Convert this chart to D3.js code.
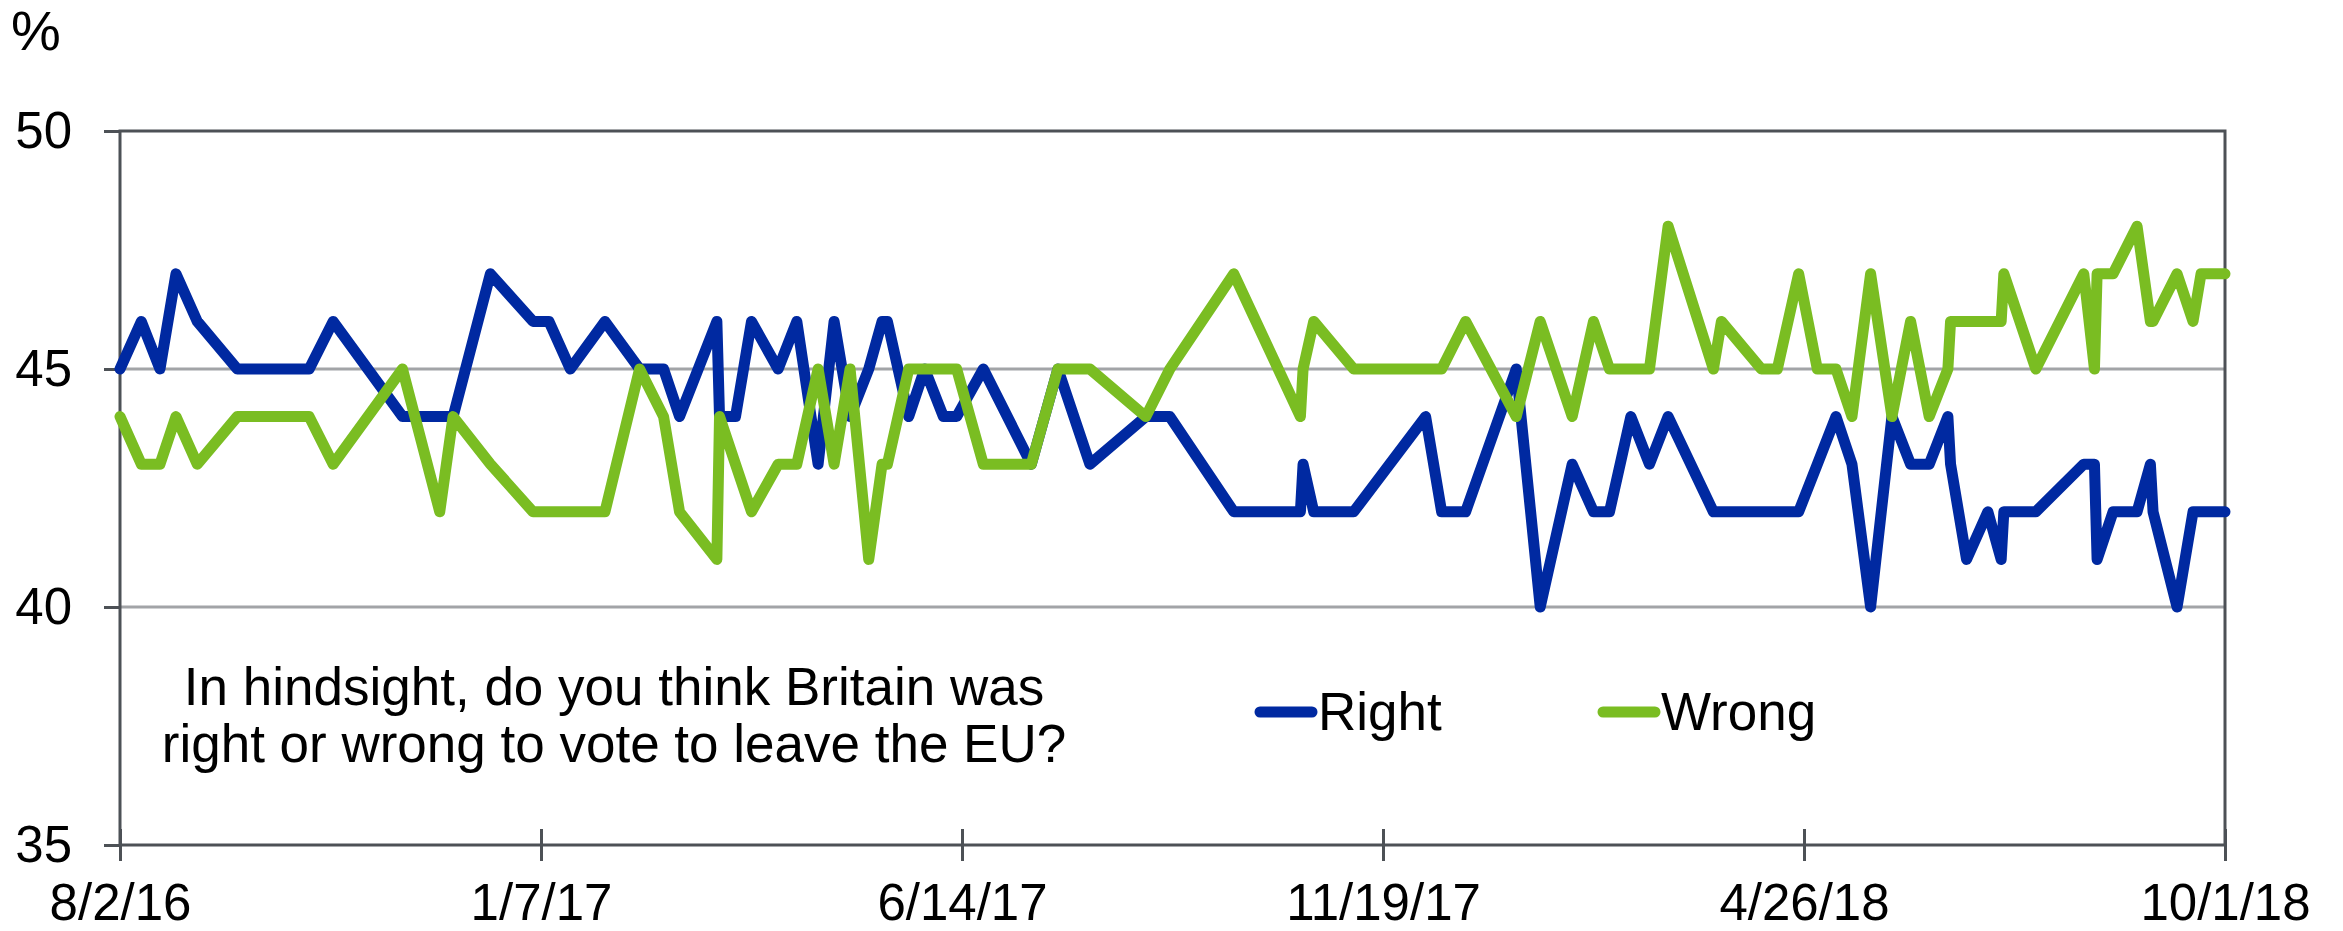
<!DOCTYPE html>
<html>
<head>
<meta charset="utf-8">
<script src="https://cdn.jsdelivr.net/npm/d3@7"></script>
<style>
  body { margin: 0; background: #fff; }
  svg text { font-family: "Liberation Sans", Arial, sans-serif; fill: #000; }
</style>
</head>
<body>
<svg id="chart" width="2343" height="931"></svg>
<script>
// Poll dates (YouGov tracker)
var dates = ["2016-08-02","2016-08-10","2016-08-17","2016-08-23","2016-08-31","2016-09-15","2016-10-12","2016-10-21",
             "2016-11-16","2016-11-30","2016-12-05","2016-12-19","2017-01-04","2017-01-10","2017-01-18","2017-01-31",
             "2017-02-13","2017-02-22","2017-02-28","2017-03-14","2017-03-15","2017-03-21","2017-03-27","2017-04-06",
             "2017-04-13","2017-04-21","2017-04-27","2017-05-03","2017-05-10","2017-05-15","2017-05-17","2017-05-25",
             "2017-05-31","2017-06-07","2017-06-12","2017-06-22","2017-07-10","2017-07-20","2017-08-01","2017-08-22",
             "2017-08-31","2017-09-24","2017-10-19","2017-10-20","2017-10-24","2017-11-08","2017-12-05","2017-12-11",
             "2017-12-20","2018-01-08","2018-01-17","2018-01-29","2018-02-06","2018-02-12","2018-02-20","2018-02-27",
             "2018-03-06","2018-03-23","2018-03-26","2018-04-10","2018-04-16","2018-04-24","2018-05-01","2018-05-08",
             "2018-05-14","2018-05-21","2018-05-29","2018-06-05","2018-06-12","2018-06-19","2018-06-20","2018-06-26",
             "2018-07-04","2018-07-09","2018-07-10","2018-07-22","2018-08-09","2018-08-13","2018-08-14","2018-08-20",
             "2018-08-29","2018-09-03","2018-09-04","2018-09-13","2018-09-19","2018-09-22","2018-10-01"];

var rightVals = [45,46,45,47,46,45,45,46, 44,44,44,47,46,46,45,46,
                 45,45,44,46,44,44,46,45, 46,43,46,44,45,46,46,44,
                 45,44,44,45,43,45,43,44, 44,42,42,43,42,42,44,42,
                 42,45,40,43,42,42,44,43, 44,42,42,42,42,42,43,44,
                 43,40,44,43,43,44,43,41, 42,41,42,42,43,43,41,42,
                 42,43,42,40,42,42,42];

var wrongVals = [44,43,43,44,43,44,44,43, 45,42,44,43,42,42,42,42,
                 45,44,42,41,44,43,42,43, 43,45,43,45,41,43,43,45,
                 45,45,45,43,43,45,45,44, 45,47,44,45,46,45,45,45,
                 46,44,46,44,46,45,45,45, 48,45,46,45,45,47,45,45,
                 44,47,44,46,44,45,46,46, 46,46,47,45,47,45,47,47,
                 48,46,46,47,46,47,47];

var seriesNames = ["Right", "Wrong"];
var seriesColors = ["#0029A1", "#7ABD22"];
var yTicks = [35, 40, 45, 50];
var xTickLabels = ["8/2/16", "1/7/17", "6/14/17", "11/19/17", "4/26/18", "10/1/18"];
var question = ["In hindsight, do you think Britain was", "right or wrong to vote to leave the EU?"];

function drawChart() {
  var svg = d3.select("#chart");
  var mLeft = 120, mRight = 2225, mTop = 131, mBottom = 845;

  var parseDate = d3.timeParse("%Y-%m-%d");
  var parseTick = d3.timeParse("%m/%d/%y");
  var tickDates = xTickLabels.map(function(s) { return parseTick(s); });

  var x = d3.scaleTime()
    .domain([tickDates[0], tickDates[tickDates.length - 1]])
    .range([mLeft, mRight]);
  var y = d3.scaleLinear().domain([35, 50]).range([mBottom, mTop]);

  // gridlines
  svg.append("g").selectAll("line")
    .data(yTicks.filter(function(d) { return d > 35 && d < 50; }))
    .enter().append("line")
    .attr("x1", mLeft).attr("x2", mRight)
    .attr("y1", function(d) { return y(d); }).attr("y2", function(d) { return y(d); })
    .attr("stroke", "#a2a4a7").attr("stroke-width", 3);

  // y axis
  var yAxis = svg.append("g")
    .attr("transform", "translate(" + mLeft + ",0)")
    .call(d3.axisLeft(y).tickValues(yTicks).tickSize(16).tickPadding(32).tickFormat(d3.format("d")));
  yAxis.select(".domain").remove();
  yAxis.selectAll(".tick line").attr("stroke", "#4d5156").attr("stroke-width", 3);
  yAxis.selectAll(".tick text").attr("font-size", 51).attr("font-family", "Liberation Sans, Arial, sans-serif");

  // x axis
  var xAxis = svg.append("g")
    .attr("transform", "translate(0," + mBottom + ")")
    .call(d3.axisBottom(x).tickValues(tickDates).tickSize(16).tickFormat(function(d, i) { return xTickLabels[i]; }));
  xAxis.select(".domain").remove();
  xAxis.selectAll(".tick line").attr("y1", -16).attr("stroke", "#4d5156").attr("stroke-width", 3);
  xAxis.selectAll(".tick text").attr("y", 39).attr("dy", "0.71em")
    .attr("font-size", 51).attr("font-family", "Liberation Sans, Arial, sans-serif");

  // plot frame
  svg.append("rect")
    .attr("x", mLeft).attr("y", mTop)
    .attr("width", mRight - mLeft).attr("height", mBottom - mTop)
    .attr("fill", "none").attr("stroke", "#4d5156").attr("stroke-width", 3);

  // lines
  var line = d3.line()
    .x(function(d) { return x(d.date); })
    .y(function(d) { return y(d.value); });

  [rightVals, wrongVals].forEach(function(vals, k) {
    var pts = vals.map(function(v, i) { return {date: parseDate(dates[i]), value: v}; });
    svg.append("path")
      .datum(pts)
      .attr("d", line)
      .attr("fill", "none")
      .attr("stroke", seriesColors[k])
      .attr("stroke-width", 11)
      .attr("stroke-linejoin", "round")
      .attr("stroke-linecap", "round");
  });

  // % label
  svg.append("text").attr("x", 11).attr("y", 50).attr("font-size", 56).text("%");

  // question text
  svg.append("text")
    .attr("text-anchor", "middle")
    .attr("font-size", 53)
    .selectAll("tspan")
    .data(question)
    .enter().append("tspan")
    .attr("x", 614)
    .attr("y", function(d, i) { return 705 + i * 57; })
    .text(function(d) { return d; });

  // legend
  var legendX = [1255, 1598];
  var lg = svg.append("g").selectAll("g")
    .data(seriesNames)
    .enter().append("g")
    .attr("transform", function(d, i) { return "translate(" + legendX[i] + ",712)"; });
  lg.append("line")
    .attr("x1", 5).attr("x2", 57)
    .attr("stroke", function(d, i) { return seriesColors[i]; })
    .attr("stroke-width", 11).attr("stroke-linecap", "round");
  lg.append("text")
    .attr("x", 63).attr("y", 18)
    .attr("font-size", 53)
    .text(function(d) { return d; });
}

drawChart();
</script>
</body>
</html>
